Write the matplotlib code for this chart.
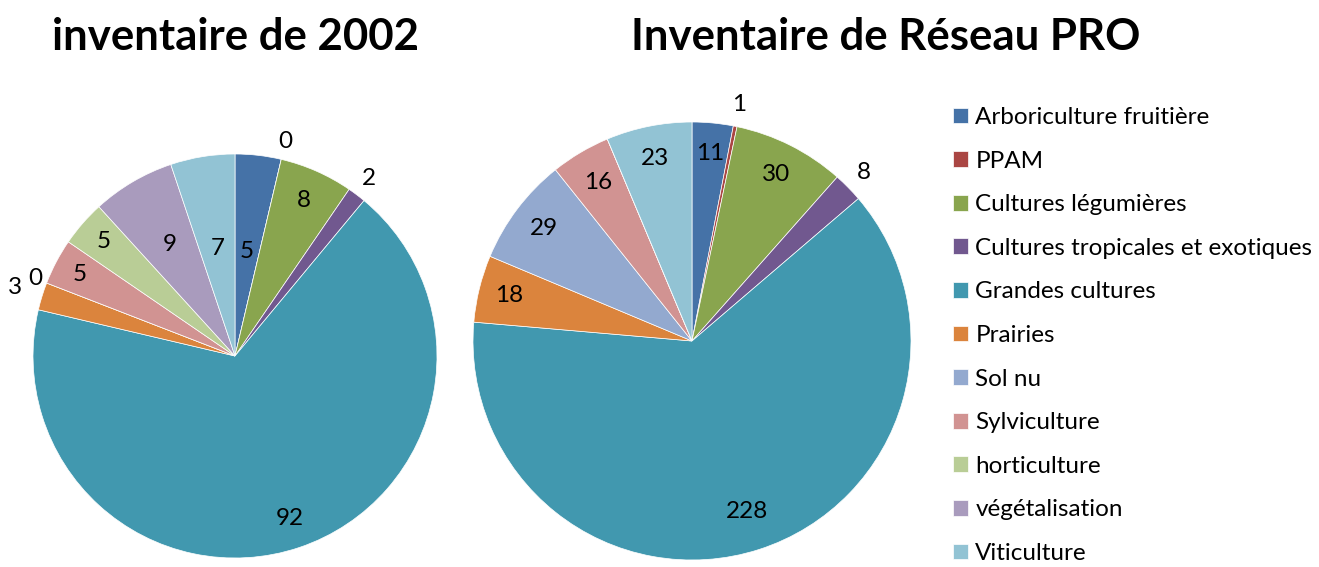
import numpy as np
import matplotlib
matplotlib.use("Agg")
import matplotlib.pyplot as plt

plt.rcParams['font.family'] = ['Lato', 'DejaVu Sans']

categories = ["Arboriculture fruitière", "PPAM", "Cultures légumières",
              "Cultures tropicales et exotiques", "Grandes cultures", "Prairies",
              "Sol nu", "Sylviculture", "horticulture", "végétalisation", "Viticulture"]
values_2002 = [5, 0, 8, 2, 92, 3, 0, 5, 5, 9, 7]
values_pro = [11, 1, 30, 8, 228, 18, 29, 16, 0, 0, 23]
colors = ["#4572A7", "#AA4643", "#89A54E", "#71588F", "#4198AF", "#DB843D",
          "#93A9CF", "#D19392", "#B9CD96", "#A99BBD", "#92C3D4"]

# label radius (fraction of R) per slice, Excel "best fit" look
lab_r_2002 = [0.52, 1.09, 0.84, 1.10, 0.85, 1.14, 1.06, 0.87, 0.86, 0.64, 0.54]
lab_r_pro = [0.86, 1.10, 0.85, 1.10, 0.82, 0.86, 0.85, 0.84, 0.85, 0.85, 0.85]

W, H = 1319, 567
fig = plt.figure(figsize=(W / 100, H / 100), dpi=100)


def draw_pie(cx, cy, r, values, lab_r, show_zero):
    ax = fig.add_axes([(cx - r) / W, (H - cy - r) / H, 2 * r / W, 2 * r / H])
    wedges, _ = ax.pie(values, colors=colors, startangle=90, counterclock=False,
                       radius=1, wedgeprops=dict(edgecolor="white", linewidth=0.5))
    ax.set_xlim(-1, 1)
    ax.set_ylim(-1, 1)
    ax.set_aspect("equal")
    ax.axis("off")
    for w, v, rr in zip(wedges, values, lab_r):
        if v == 0 and not show_zero:
            continue
        ang = np.deg2rad((w.theta1 + w.theta2) / 2)
        ax.text(rr * np.cos(ang), rr * np.sin(ang), str(v), ha="center", va="center",
                fontsize=17.5, clip_on=False)
    return wedges


wedges = draw_pie(235, 356, 202, values_2002, lab_r_2002, True)
draw_pie(692, 341, 219, values_pro, lab_r_pro, False)

fig.text(235 / W, 1 - 37 / H, "inventaire de 2002", ha="center", va="center",
         fontsize=31.5, fontweight="bold")
fig.text(886 / W, 1 - 37 / H, "Inventaire de Réseau PRO", ha="center", va="center",
         fontsize=31.5, fontweight="bold")

fig.legend(wedges, categories, loc="upper left", bbox_to_anchor=(953 / W, 1 - 107 / H),
           frameon=False, fontsize=17.5, handlelength=0.62, handleheight=0.62,
           handletextpad=0.3, labelspacing=0.93, borderaxespad=0, borderpad=0)

fig.savefig("out.png", dpi=100)
